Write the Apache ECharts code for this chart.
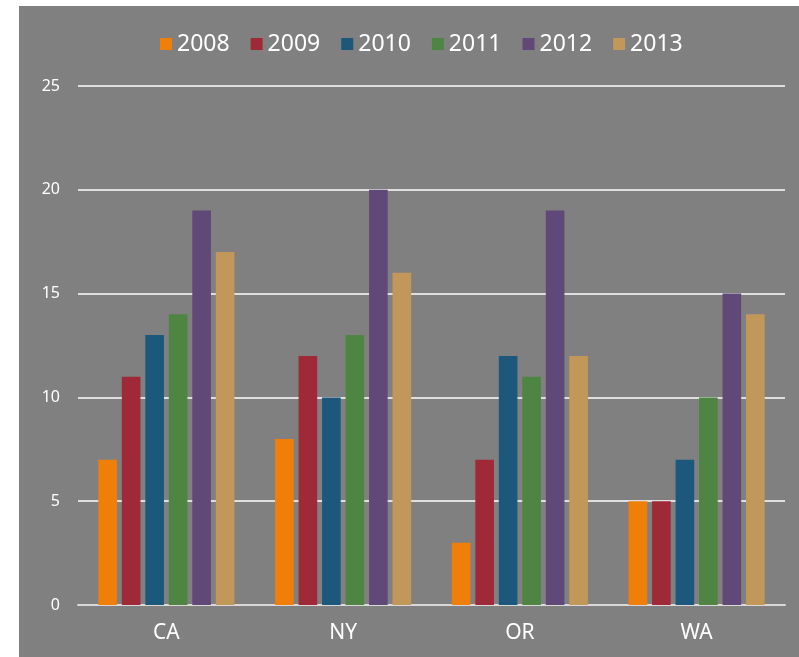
<!DOCTYPE html>
<html>
<head>
<meta charset="utf-8">
<script src="https://cdn.jsdelivr.net/npm/echarts@6/dist/echarts.min.js"></script>
<style>
html,body{margin:0;padding:0;background:#ffffff;width:799px;height:657px;overflow:hidden;}
#chart{position:absolute;left:19px;top:6px;width:780px;height:651px;background:#808080;}
</style>
</head>
<body>
<div id="chart"></div>
<script>
const categories = ['CA', 'NY', 'OR', 'WA'];
const years = ['2008', '2009', '2010', '2011', '2012', '2013'];
const v2008 = [7, 8, 3, 5];
const v2009 = [11, 12, 7, 5];
const v2010 = [13, 10, 12, 7];
const v2011 = [14, 13, 11, 10];
const v2012 = [19, 20, 19, 15];
const v2013 = [17, 16, 12, 14];
const yTicks = { min: 0, max: 25, interval: 5 };

const values = [v2008, v2009, v2010, v2011, v2012, v2013];
const colors = ['#F07F09', '#9F2936', '#1B587C', '#4E8542', '#604878', '#C19859'];
const font = 'Noto Sans';

const chart = echarts.init(document.getElementById('chart'), null, { renderer: 'canvas' });
chart.setOption({
  backgroundColor: 'transparent',
  animation: false,
  textStyle: { fontFamily: font },
  legend: {
    left: 136,
    top: 21,
    itemWidth: 12,
    itemHeight: 12,
    itemGap: 21,
    icon: 'rect',
    textStyle: { color: '#ffffff', fontSize: 23, fontFamily: font, lineHeight: 24 },
    data: years
  },
  grid: { left: 59, right: 14, top: 80, bottom: 52, containLabel: false },
  xAxis: {
    type: 'category',
    data: categories,
    axisTick: { show: false },
    axisLine: { show: true, lineStyle: { color: '#D9D9D9', width: 2 } },
    axisLabel: { color: '#ffffff', fontSize: 21, fontFamily: font, margin: 18 }
  },
  yAxis: {
    type: 'value',
    min: yTicks.min,
    max: yTicks.max,
    interval: yTicks.interval,
    axisLine: { show: false },
    axisTick: { show: false },
    axisLabel: { color: '#ffffff', fontSize: 16, fontFamily: font, margin: 18 },
    splitLine: { show: true, lineStyle: { color: '#ffffff', width: 1.5 } }
  },
  series: years.map((y, i) => ({
    name: y,
    type: 'bar',
    data: values[i],
    barGap: '26%',
    barCategoryGap: '23%',
    itemStyle: { color: colors[i] }
  }))
});
</script>
</body>
</html>
